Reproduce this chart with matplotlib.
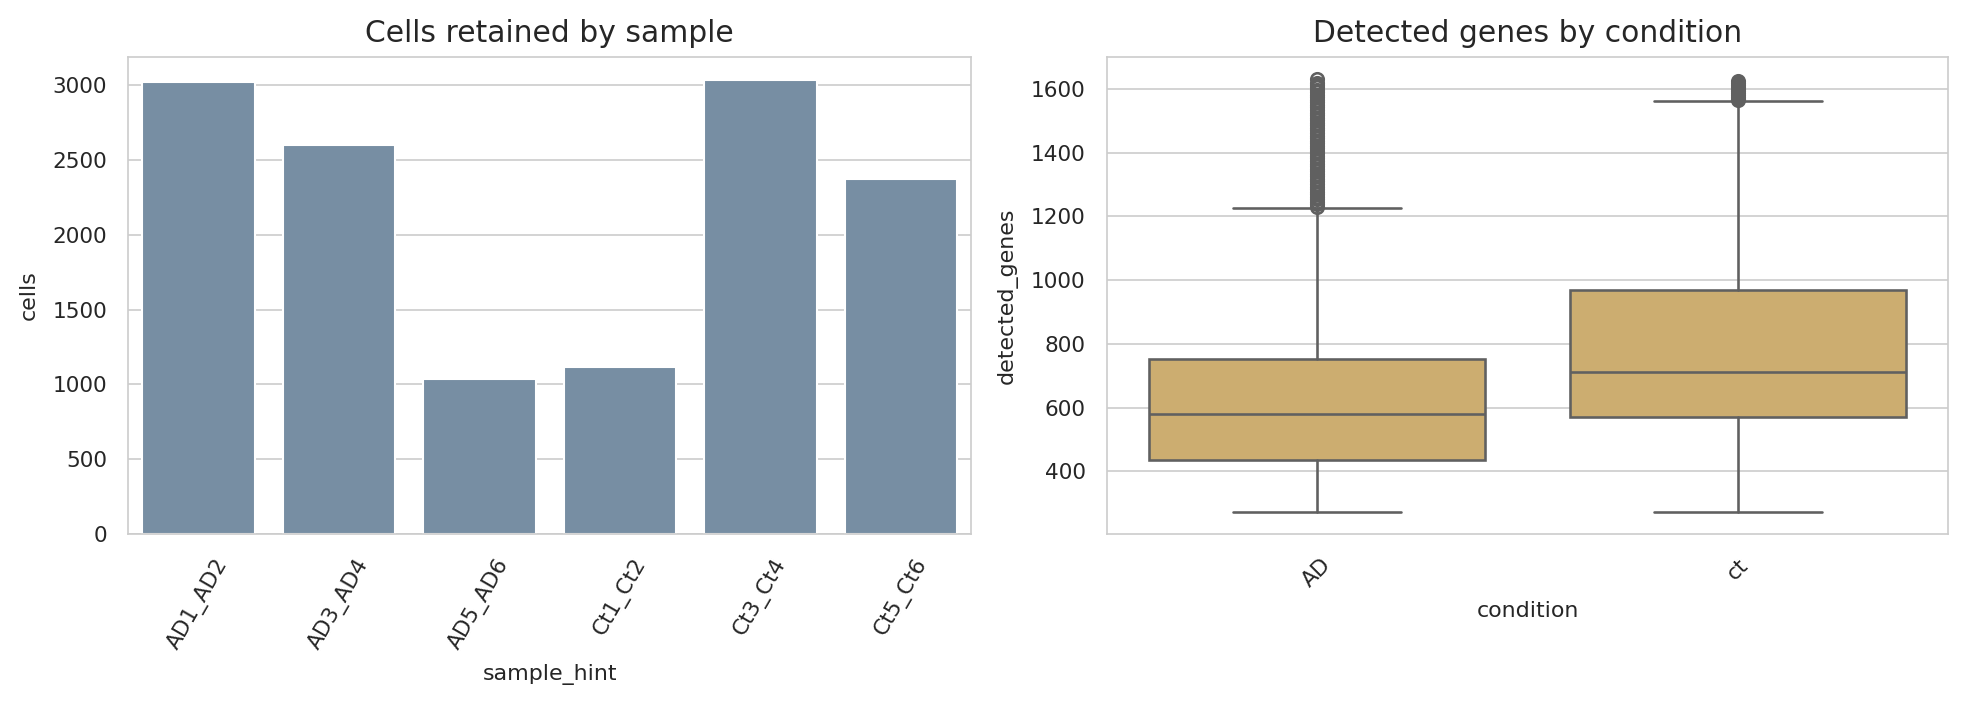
import matplotlib
matplotlib.use("Agg")
import matplotlib.pyplot as plt
import seaborn as sns

sns.set_style("whitegrid")
plt.rcParams['font.family'] = ['DejaVu Sans']

samples = ["AD1_AD2", "AD3_AD4", "AD5_AD6", "Ct1_Ct2", "Ct3_Ct4", "Ct5_Ct6"]
cells = [3020, 2600, 1035, 1115, 3035, 2375]

conditions = ["AD", "ct"]
box_low = [272, 272]
box_q1 = [437, 572]
box_med = [580, 712]
box_q3 = [752, 968]
box_high = [1228, 1562]
fliers_AD = [1230, 1238, 1246, 1254, 1262, 1270, 1278, 1286, 1294, 1302, 1310, 1318,
             1326, 1334, 1342, 1350, 1358, 1366, 1374, 1382, 1390, 1398, 1406, 1414,
             1422, 1430, 1438, 1446, 1454, 1462, 1470, 1478, 1486, 1494, 1502, 1510,
             1518, 1526, 1534, 1542, 1550, 1558, 1566, 1574, 1582, 1590, 1598, 1605,
             1612, 1620, 1632]
fliers_ct = [1564, 1570, 1576, 1582, 1588, 1594, 1600, 1606, 1612, 1618, 1625]

bar_color = "#778ea3"
box_color = "#ccad70"
line_color = "#606060"

TICK = 10.4
LABEL = 10.6
TITLE = 14.3

fig = plt.figure(figsize=(13.113, 4.7), dpi=150)
ax1 = fig.add_axes([0.0651, 0.2426, 0.4937 - 0.0651, 0.919 - 0.2426])
ax2 = fig.add_axes([0.5626, 0.2426, 0.9906 - 0.5626, 0.919 - 0.2426])

for ax in (ax1, ax2):
    ax.tick_params(axis='both', length=0, pad=10, labelsize=TICK)

ax1.bar(range(len(samples)), cells, width=0.8, color=bar_color)
ax1.set_xticks(range(len(samples)))
ax1.set_xticklabels(samples, rotation=60, fontsize=TICK)
ax1.set_xlim(-0.5, len(samples) - 0.5)
ax1.set_ylim(0, max(cells) * 1.05)
ax1.set_xlabel("sample_hint", fontsize=LABEL, labelpad=5.5)
ax1.set_ylabel("cells", fontsize=LABEL, labelpad=6.5)
ax1.set_title("Cells retained by sample", fontsize=TITLE, pad=7.2)
ax1.xaxis.grid(False)
ax1.set_axisbelow(True)

stats = []
fl = [fliers_AD, fliers_ct]
for i, c in enumerate(conditions):
    stats.append(dict(label=c, whislo=box_low[i], q1=box_q1[i], med=box_med[i],
                      q3=box_q3[i], whishi=box_high[i], fliers=fl[i]))
ax2.bxp(stats, positions=range(len(conditions)), widths=0.8, patch_artist=True,
        boxprops=dict(facecolor=box_color, edgecolor=line_color, linewidth=1.25),
        medianprops=dict(color=line_color, linewidth=1.25),
        whiskerprops=dict(color=line_color, linewidth=1.25),
        capprops=dict(color=line_color, linewidth=1.25),
        flierprops=dict(marker="o", markersize=6, markerfacecolor="none",
                        markeredgecolor=line_color, markeredgewidth=1.25),
        capwidths=0.4)
ax2.set_xlim(-0.5, len(conditions) - 0.5)
allv = box_low + fliers_AD + fliers_ct
lo, hi = min(allv), max(allv)
pad = (hi - lo) * 0.05
ax2.set_ylim(lo - pad, hi + pad)
ax2.set_xticks(range(len(conditions)))
ax2.set_xticklabels(conditions, rotation=45, fontsize=TICK)
ax2.set_xlabel("condition", fontsize=LABEL, labelpad=4.5)
ax2.set_ylabel("detected_genes", fontsize=LABEL, labelpad=6.5)
ax2.set_title("Detected genes by condition", fontsize=TITLE, pad=7.2)
ax2.xaxis.grid(False)
ax2.set_axisbelow(True)

fig.savefig("out.png", dpi=150)
